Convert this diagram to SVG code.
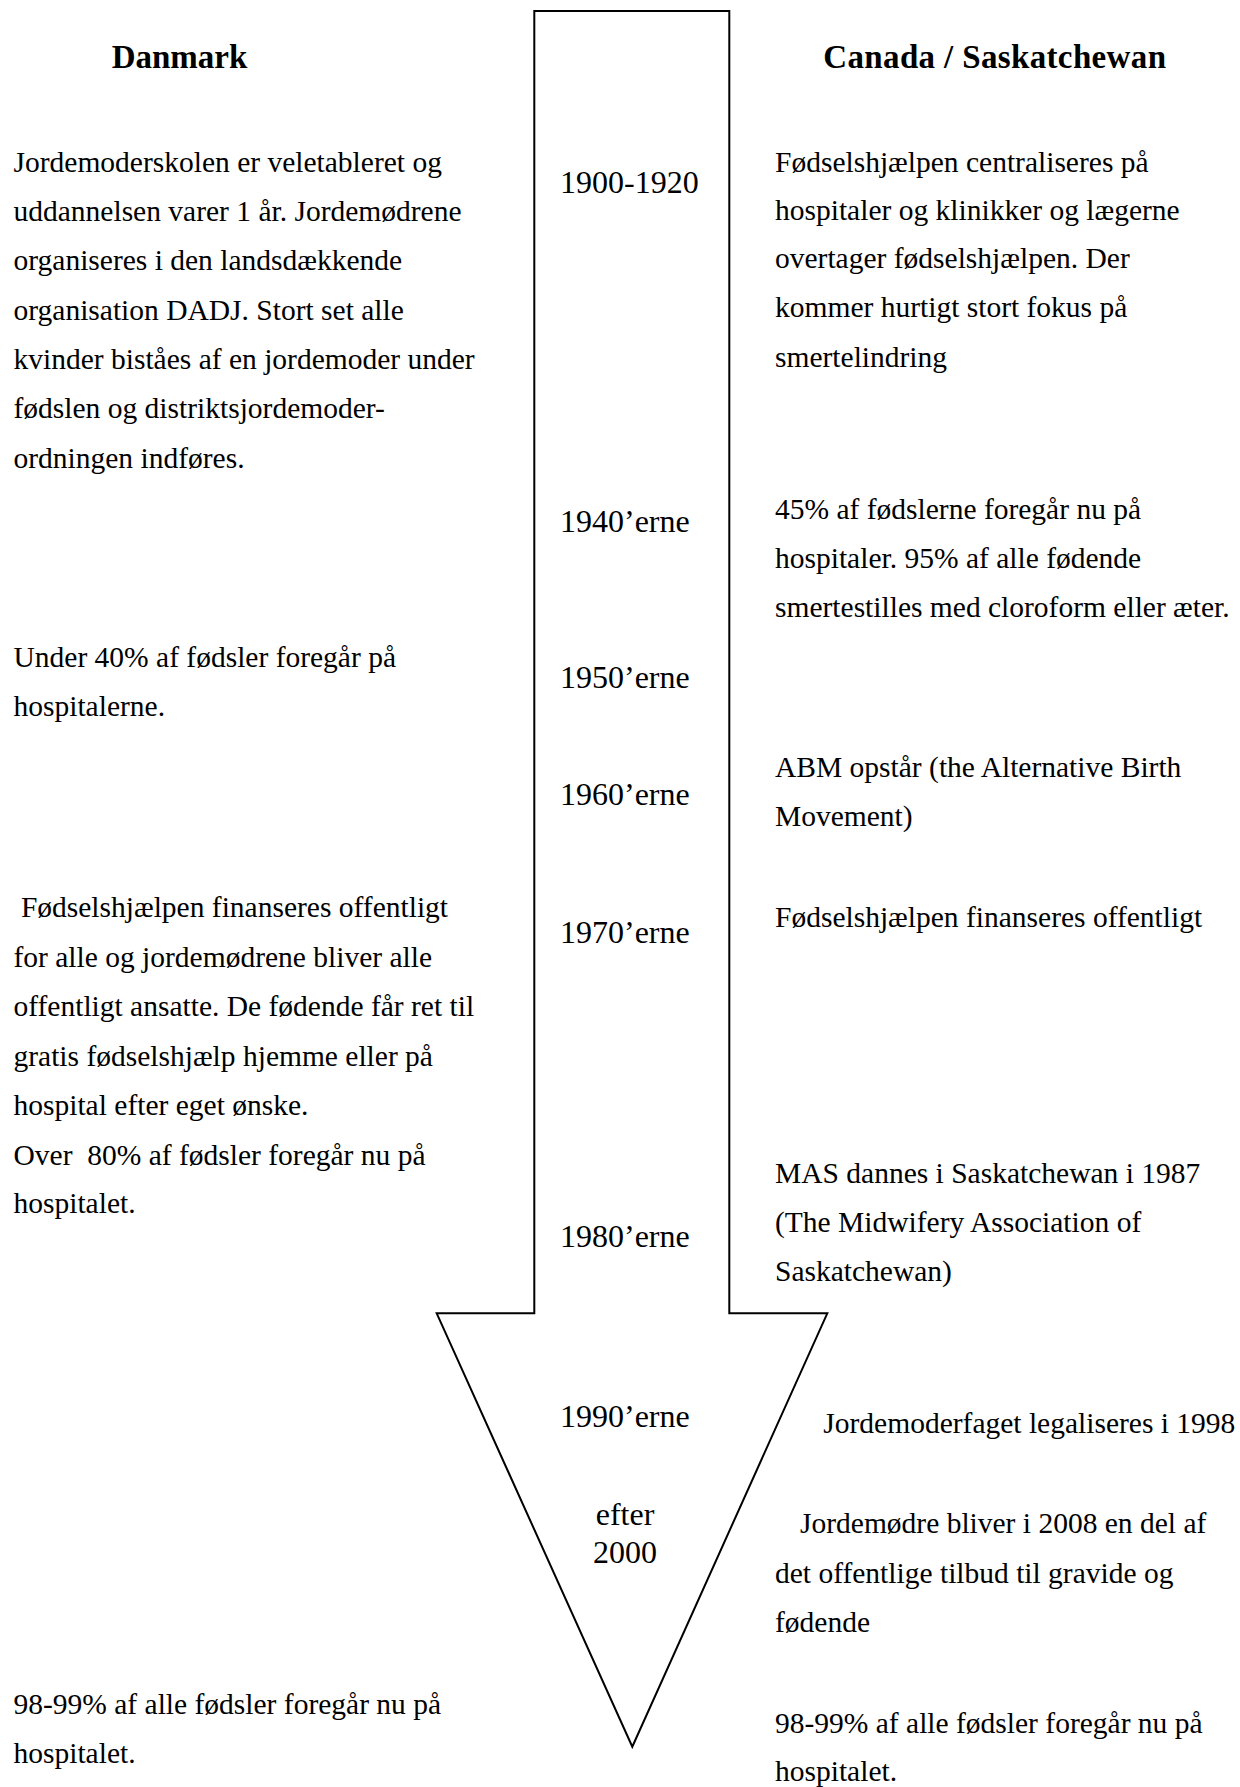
<svg xmlns="http://www.w3.org/2000/svg" width="1240" height="1787" viewBox="0 0 1240 1787" xml:space="preserve">
<style>
text { font-family: "Liberation Serif", "Times New Roman", serif; fill: #000; white-space: pre; }
.body { font-size: 29.5px; }
.year { font-size: 32px; }
.head { font-size: 33px; font-weight: bold; }
.arrow { fill: #fff; stroke: #000; stroke-width: 2; stroke-linejoin: miter; }
</style>
<rect width="1240" height="1787" fill="#fff"/>
<g id="timeline-arrow">
<polygon class="arrow" points="534.3,11 729.3,11 729.3,1313.3 827.3,1313.3 632.3,1746.7 436.7,1313.3 534.3,1313.3"/>
</g>
<g id="connectors"></g>
<g id="header-danmark"><text class="head" x="111.7" y="67.7">Danmark</text></g>
<g id="header-canada"><text class="head" x="823.3" y="67.7" textLength="342.7" lengthAdjust="spacing">Canada / Saskatchewan</text></g>
<g id="years">
<g id="year-1900"><text class="year" x="560" y="193">1900-1920</text></g>
<g id="year-1940"><text class="year" x="560" y="531.6">1940’erne</text></g>
<g id="year-1950"><text class="year" x="560" y="687.7">1950’erne</text></g>
<g id="year-1960"><text class="year" x="560" y="805">1960’erne</text></g>
<g id="year-1970"><text class="year" x="560" y="943">1970’erne</text></g>
<g id="year-1980"><text class="year" x="560" y="1247.3">1980’erne</text></g>
<g id="year-1990"><text class="year" x="560" y="1427">1990’erne</text></g>
<g id="year-2000"><text class="year" x="625" y="1525" text-anchor="middle">efter</text><text class="year" x="625" y="1563.3" text-anchor="middle">2000</text></g>
</g>
<g id="dk-1900">
<text class="body" x="13.5" y="171.7">Jordemoderskolen er veletableret og</text>
<text class="body" x="13.5" y="221">uddannelsen varer 1 år. Jordemødrene</text>
<text class="body" x="13.5" y="270.3">organiseres i den landsdækkende</text>
<text class="body" x="13.5" y="319.6">organisation DADJ. Stort set alle</text>
<text class="body" x="13.5" y="368.9">kvinder biståes af en jordemoder under</text>
<text class="body" x="13.5" y="418.2">fødslen og distriktsjordemoder-</text>
<text class="body" x="13.5" y="467.5">ordningen indføres.</text>
</g>
<g id="dk-1950">
<text class="body" x="13.5" y="666.6">Under 40% af fødsler foregår på</text>
<text class="body" x="13.5" y="715.9">hospitalerne.</text>
</g>
<g id="dk-1970">
<text class="body" x="13.5" y="916.7"> Fødselshjælpen finanseres offentligt</text>
<text class="body" x="13.5" y="966.7">for alle og jordemødrene bliver alle</text>
<text class="body" x="13.5" y="1016">offentligt ansatte. De fødende får ret til</text>
<text class="body" x="13.5" y="1065.7">gratis fødselshjælp hjemme eller på</text>
<text class="body" x="13.5" y="1115">hospital efter eget ønske.</text>
<text class="body" x="13.5" y="1165">Over  80% af fødsler foregår nu på</text>
<text class="body" x="13.5" y="1213.3">hospitalet.</text>
</g>
<g id="dk-2000">
<text class="body" x="13.5" y="1714">98-99% af alle fødsler foregår nu på</text>
<text class="body" x="13.5" y="1763">hospitalet.</text>
</g>
<g id="ca-1900">
<text class="body" x="775" y="171.7">Fødselshjælpen centraliseres på</text>
<text class="body" x="775" y="220">hospitaler og klinikker og lægerne</text>
<text class="body" x="775" y="268.3">overtager fødselshjælpen. Der</text>
<text class="body" x="775" y="317.3">kommer hurtigt stort fokus på</text>
<text class="body" x="775" y="366.7">smertelindring</text>
</g>
<g id="ca-1940">
<text class="body" x="775" y="519.3">45% af fødslerne foregår nu på</text>
<text class="body" x="775" y="568.3">hospitaler. 95% af alle fødende</text>
<text class="body" x="775" y="616.7">smertestilles med cloroform eller æter.</text>
</g>
<g id="ca-1960">
<text class="body" x="775" y="776.7">ABM opstår (the Alternative Birth</text>
<text class="body" x="775" y="825.7">Movement)</text>
</g>
<g id="ca-1970">
<text class="body" x="775" y="926.7">Fødselshjælpen finanseres offentligt</text>
</g>
<g id="ca-1980">
<text class="body" x="775" y="1183">MAS dannes i Saskatchewan i 1987</text>
<text class="body" x="775" y="1232">(The Midwifery Association of</text>
<text class="body" x="775" y="1281">Saskatchewan)</text>
</g>
<g id="ca-1990">
<text class="body" x="823.3" y="1433.3">Jordemoderfaget legaliseres i 1998</text>
</g>
<g id="ca-2008">
<text class="body" x="800" y="1533.3">Jordemødre bliver i 2008 en del af</text>
<text class="body" x="775" y="1583">det offentlige tilbud til gravide og</text>
<text class="body" x="775" y="1632">fødende</text>
</g>
<g id="ca-2000">
<text class="body" x="775" y="1733">98-99% af alle fødsler foregår nu på</text>
<text class="body" x="775" y="1781">hospitalet.</text>
</g>
</svg>
